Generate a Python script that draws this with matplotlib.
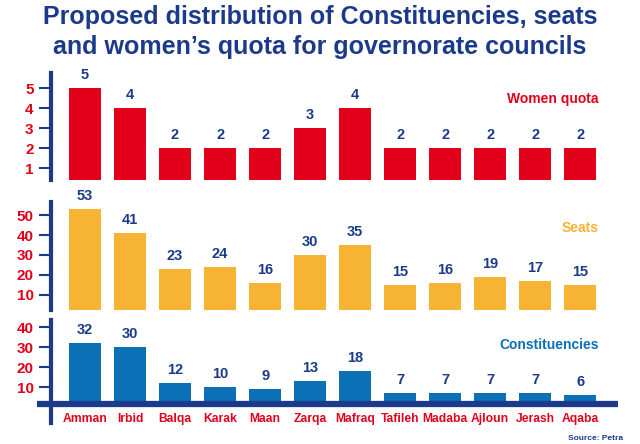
import matplotlib.pyplot as plt

plt.rcParams["font.family"] = ["Liberation Sans", "DejaVu Sans"]
plt.rcParams["font.weight"] = "bold"

# data
districts = ["Amman", "Irbid", "Balqa", "Karak", "Maan", "Zarqa", "Mafraq",
             "Tafileh", "Madaba", "Ajloun", "Jerash", "Aqaba"]
women_quota = [5, 4, 2, 2, 2, 3, 4, 2, 2, 2, 2, 2]
seats = [53, 41, 23, 24, 16, 30, 35, 15, 16, 19, 17, 15]
constituencies = [32, 30, 12, 10, 9, 13, 18, 7, 7, 7, 7, 6]

RED = "#e2001a"
ORANGE = "#f7b334"
BLUE = "#0b70b5"
NAVY = "#1b3a8c"

W, H = 640, 444
fig = plt.figure(figsize=(W / 100, H / 100), dpi=100)

x = list(range(len(districts)))
xlim = (-0.756, 11.84)

def px_axes(top, bottom):
    # pixel box -> figure fraction
    left, right = 51, 618
    return [left / W, 1 - bottom / H, (right - left) / W, (bottom - top) / H]

panels = [
    # values, colour, label, (top px, bottom px), ylim, ticks
    (women_quota, RED, "Women quota", (73, 180), (0.4, 5.75), [1, 2, 3, 4, 5]),
    (seats, ORANGE, "Seats", (202, 310), (2.5, 56.5), [10, 20, 30, 40, 50]),
    (constituencies, BLUE, "Constituencies", (320, 423), (-8, 43.5), [10, 20, 30, 40]),
]
label_y = [0.757, 0.76, 0.757]

axes = []
for (vals, col, name, (top, bot), ylim, ticks), ly in zip(panels, label_y):
    ax = fig.add_axes(px_axes(top, bot))
    ax.bar(x, vals, width=0.71, color=col, zorder=2)
    ax.set_xlim(*xlim)
    ax.set_ylim(*ylim)
    ax.set_yticks(ticks)
    ax.set_xticks([])
    for s in ["top", "right", "bottom"]:
        ax.spines[s].set_visible(False)
    ax.spines["left"].set_color(NAVY)
    ax.spines["left"].set_linewidth(3)
    ax.tick_params(axis="y", direction="out", length=9, width=1.5, color=NAVY,
                   labelcolor=RED, labelsize=11, pad=3.5)
    for t in ax.get_yticklabels():
        t.set_fontweight("bold")
    for xi, v in zip(x, vals):
        ax.annotate(str(v), (xi, v), xytext=(0, 4), textcoords="offset points",
                    ha="center", va="bottom", color=NAVY, fontsize=10.5,
                    fontweight="bold")
    ax.text(0.966, ly, name, transform=ax.transAxes, ha="right", va="center",
            color=col, fontsize=10, fontweight="bold")
    ax.patch.set_alpha(0)
    axes.append(ax)

# bottom baseline, reaching left past the vertical axis
ax3 = axes[2]
ax3.plot([-1.07, 11.84], [1.5, 1.5], color=NAVY, lw=4.5, clip_on=False,
         solid_capstyle="butt", zorder=3)
for xi, name in zip(x, districts):
    ax3.annotate(name, (xi, 0), xytext=(0, -4.5), textcoords="offset points",
                 ha="center", va="top", color=RED, fontsize=8.7,
                 fontweight="bold", annotation_clip=False)

fig.text(0.5, 1 - 5 / H,
         "Proposed distribution of Constituencies, seats\nand women\u2019s quota for governorate councils",
         ha="center", va="top", color=NAVY, fontsize=18,
         fontweight="bold", linespacing=1.3)
fig.text(623 / W, 1 - 440 / H, "Source: Petra", ha="right", va="baseline",
         color=NAVY, fontsize=6, fontweight="bold")

fig.savefig("out.png", dpi=100)
